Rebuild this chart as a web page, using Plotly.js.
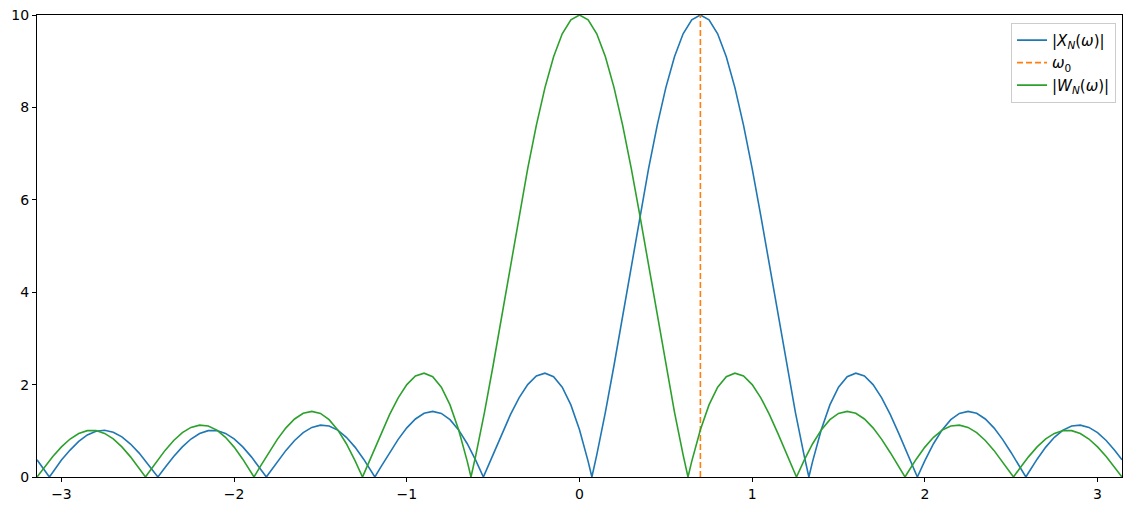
<!DOCTYPE html>
<html><head><meta charset="utf-8">
<script src="https://cdn.plot.ly/plotly-3.0.1.min.js"></script>
<style>html,body{margin:0;padding:0;background:#fff}#chart{width:1132px;height:511px}</style>
</head><body><div id="chart"></div>
<script>
const omega0 = 0.7;
const peak = 10;

const blueX = [-3.1416,-3.1,-3.0699,-3.05,-3,-2.95,-2.9,-2.85,-2.8,-2.75,-2.7,-2.65,-2.6,-2.55,-2.5,-2.45,-2.4416,
 -2.4,-2.35,-2.3,-2.25,-2.2,-2.15,-2.1,-2.05,-2,-1.95,-1.9,-1.85,-1.8133,
 -1.8,-1.75,-1.7,-1.65,-1.6,-1.55,-1.5,-1.45,-1.4,-1.35,-1.3,-1.25,-1.2,-1.185,
 -1.15,-1.1,-1.05,-1,-0.95,-0.9,-0.85,-0.8,-0.75,-0.7,-0.65,-0.6,-0.5566,
 -0.55,-0.5,-0.45,-0.4,-0.35,-0.3,-0.25,-0.2,-0.15,-0.1,-0.05,0,0.05,0.0717,
 0.1,0.15,0.2,0.25,0.3,0.35,0.4,0.45,0.5,0.55,0.6,0.65,0.7,0.75,0.8,0.85,0.9,0.95,1,1.05,1.1,1.15,1.2,1.25,1.3,1.3283,
 1.35,1.4,1.45,1.5,1.55,1.6,1.65,1.7,1.75,1.8,1.85,1.9,1.95,1.9566,
 2,2.05,2.1,2.15,2.2,2.25,2.3,2.35,2.4,2.45,2.5,2.55,2.585,
 2.6,2.65,2.7,2.75,2.8,2.85,2.9,2.95,3,3.05,3.1,3.1416];
const blueY = [0.373,0.158,0,0.104,0.368,0.583,0.771,0.910,0.991,1.012,0.970,0.868,0.714,0.517,0.288,0.042,0,
 0.207,0.443,0.652,0.822,0.942,1.004,1.005,0.944,0.824,0.651,0.436,0.191,0,
 0.070,0.331,0.576,0.790,0.959,1.073,1.122,1.103,1.014,0.860,0.647,0.386,0.092,0,
 0.218,0.526,0.814,1.063,1.256,1.379,1.421,1.376,1.241,1.020,0.720,0.356,0,
 0.057,0.495,0.935,1.350,1.714,2.000,2.185,2.247,2.171,1.943,1.561,1.023,0.339,0,
 0.478,1.406,2.419,3.488,4.577,5.652,6.675,7.612,8.429,9.097,9.593,9.897,10,9.897,9.593,9.097,8.429,7.612,6.675,5.652,4.577,3.488,2.419,1.406,0.478,0,
 0.339,1.023,1.561,1.943,2.171,2.247,2.185,2.000,1.714,1.350,0.935,0.495,0.057,0,
 0.356,0.720,1.020,1.241,1.376,1.421,1.379,1.256,1.063,0.814,0.526,0.218,0,
 0.092,0.386,0.647,0.860,1.014,1.103,1.122,1.073,0.959,0.790,0.576,0.373];

const greenX = [-3.1416,-3.1,-3.05,-3,-2.95,-2.9,-2.85,-2.8,-2.75,-2.7,-2.65,-2.6,-2.55,-2.5133,
 -2.5,-2.45,-2.4,-2.35,-2.3,-2.25,-2.2,-2.15,-2.1,-2.05,-2,-1.95,-1.9,-1.885,
 -1.85,-1.8,-1.75,-1.7,-1.65,-1.6,-1.55,-1.5,-1.45,-1.4,-1.35,-1.3,-1.2566,
 -1.25,-1.2,-1.15,-1.1,-1.05,-1,-0.95,-0.9,-0.85,-0.8,-0.75,-0.7,-0.65,-0.6283,
 -0.6,-0.55,-0.5,-0.45,-0.4,-0.35,-0.3,-0.25,-0.2,-0.15,-0.1,-0.05,
 0,
 0.05,0.1,0.15,0.2,0.25,0.3,0.35,0.4,0.45,0.5,0.55,0.6,
 0.6283,0.65,0.7,0.75,0.8,0.85,0.9,0.95,1,1.05,1.1,1.15,1.2,1.25,
 1.2566,1.3,1.35,1.4,1.45,1.5,1.55,1.6,1.65,1.7,1.75,1.8,1.85,
 1.885,1.9,1.95,2,2.05,2.1,2.15,2.2,2.25,2.3,2.35,2.4,2.45,2.5,
 2.5133,2.55,2.6,2.65,2.7,2.75,2.8,2.85,2.9,2.95,3,3.05,3.1,3.1416];
const greenY = [0,0.207,0.443,0.652,0.822,0.942,1.004,1.005,0.944,0.824,0.651,0.436,0.191,0,
 0.070,0.331,0.576,0.790,0.959,1.073,1.122,1.103,1.014,0.860,0.647,0.386,0.092,0,
 0.218,0.526,0.814,1.063,1.256,1.379,1.421,1.376,1.241,1.020,0.720,0.356,0,
 0.057,0.495,0.935,1.350,1.714,2.000,2.185,2.247,2.171,1.943,1.561,1.023,0.339,0,
 0.478,1.406,2.419,3.488,4.577,5.652,6.675,7.612,8.429,9.097,9.593,9.897,
 10,
 9.897,9.593,9.097,8.429,7.612,6.675,5.652,4.577,3.488,2.419,1.406,0.478,
 0,0.339,1.023,1.561,1.943,2.171,2.247,2.185,2.000,1.714,1.350,0.935,0.495,0.057,
 0,0.356,0.720,1.020,1.241,1.376,1.421,1.379,1.256,1.063,0.814,0.526,0.218,
 0,0.092,0.386,0.647,0.860,1.014,1.103,1.122,1.073,0.959,0.790,0.576,0.331,0.070,
 0,0.191,0.436,0.651,0.824,0.944,1.005,1.004,0.942,0.822,0.652,0.443,0.207,0];

const xTicks = [-3,-2,-1,0,1,2,3];
const yTicks = [0,2,4,6,8,10];

const traces = [
  {x: blueX, y: blueY, mode: 'lines', name: '|<i>X</i><sub><i>N</i></sub>(<i>ω</i>)|',
   line: {color: '#1f77b4', width: 1.6}},
  {x: [omega0, omega0], y: [0, peak], mode: 'lines', name: '<i>ω</i><sub>0</sub>',
   line: {color: '#ff7f0e', width: 1.6, dash: '6px,3px'}},
  {x: greenX, y: greenY, mode: 'lines', name: '|<i>W</i><sub><i>N</i></sub>(<i>ω</i>)|',
   line: {color: '#2ca02c', width: 1.6}}
];

const axisCommon = {
  showgrid: false, zeroline: false, showline: true, mirror: true,
  linecolor: '#000', linewidth: 1, ticks: 'outside', ticklen: 4, tickwidth: 1, tickcolor: '#000',
  tickfont: {family: 'DejaVu Sans', size: 14, color: '#000'}
};

const layout = {
  width: 1132, height: 511,
  margin: {l: 37, r: 10, t: 15, b: 34},
  paper_bgcolor: '#fff', plot_bgcolor: '#fff',
  showlegend: true,
  xaxis: Object.assign({}, axisCommon, {range: [-Math.PI, Math.PI], tickvals: xTicks, ticktext: xTicks.map(v => v < 0 ? '\u2212' + Math.abs(v) : String(v))}),
  yaxis: Object.assign({}, axisCommon, {range: [0, 10], tickvals: yTicks}),
  legend: {x: 0.9945, xanchor: 'right', y: 0.983, yanchor: 'top',
    bgcolor: 'rgba(255,255,255,0.8)', bordercolor: '#cccccc', borderwidth: 1,
    font: {family: 'DejaVu Sans', size: 15, color: '#000'}, itemwidth: 30, tracegroupgap: 0},
  font: {family: 'DejaVu Sans', color: '#000'}
};

Plotly.newPlot('chart', traces, layout, {displayModeBar: false, staticPlot: true});
</script></body></html>
